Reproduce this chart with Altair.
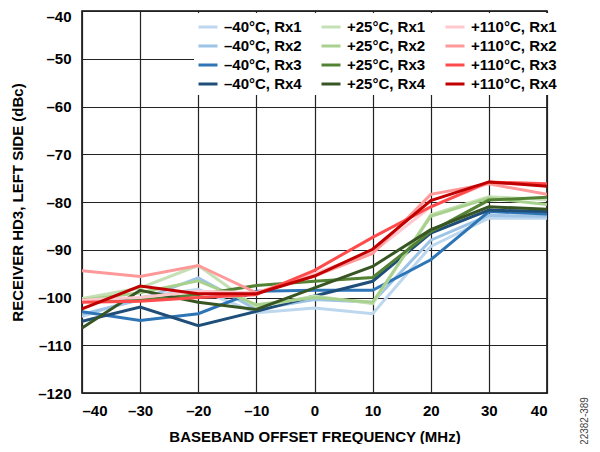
import altair as alt
import pandas as pd

freq = [-40, -30, -20, -10, 0, 10, 20, 30, 40]

series_names = [
    "–40°C, Rx1", "–40°C, Rx2", "–40°C, Rx3", "–40°C, Rx4",
    "+25°C, Rx1", "+25°C, Rx2", "+25°C, Rx3", "+25°C, Rx4",
    "+110°C, Rx1", "+110°C, Rx2", "+110°C, Rx3", "+110°C, Rx4",
]
series_colors = [
    "#bdd7ee", "#9dc3e6", "#2e75b6", "#1f4e79",
    "#c5e0b4", "#a9d18e", "#548235", "#375623",
    "#ffc7ce", "#ff9999", "#ff4b4b", "#c00000",
]

m40_rx1 = [-104.0, -100.0, -98.3, -103.2, -102.2, -103.4, -89.3, -83.4, -83.4]
m40_rx2 = [-103.5, -100.5, -95.9, -102.5, -100.4, -101.0, -88.0, -82.8, -83.0]
m40_rx3 = [-103.0, -104.8, -103.4, -98.7, -98.5, -98.5, -92.1, -82.0, -82.5]
m40_rx4 = [-105.0, -102.0, -105.9, -102.9, -99.7, -96.6, -86.5, -81.7, -82.0]

p25_rx1 = [-100.2, -98.0, -93.3, -102.0, -99.7, -101.3, -82.7, -78.9, -79.5]
p25_rx2 = [-100.5, -99.0, -96.5, -101.5, -100.0, -101.0, -83.0, -79.2, -80.5]
p25_rx3 = [-100.5, -100.5, -99.4, -97.5, -96.6, -95.8, -86.2, -79.6, -79.0]
p25_rx4 = [-106.4, -98.5, -101.0, -102.5, -98.0, -93.5, -85.8, -81.0, -81.5]

p110_rx1 = [-100.5, -100.0, -98.7, -99.0, -95.0, -90.5, -81.0, -76.0, -76.5]
p110_rx2 = [-94.4, -95.6, -93.3, -99.0, -95.5, -90.8, -78.4, -76.2, -78.4]
p110_rx3 = [-101.0, -100.8, -100.0, -99.4, -94.3, -87.4, -81.0, -75.8, -76.2]
p110_rx4 = [-102.4, -97.6, -99.2, -99.2, -95.5, -89.9, -79.7, -75.8, -76.7]

series_values = [
    m40_rx1, m40_rx2, m40_rx3, m40_rx4,
    p25_rx1, p25_rx2, p25_rx3, p25_rx4,
    p110_rx1, p110_rx2, p110_rx3, p110_rx4,
]

rows = []
for k, (name, vals) in enumerate(zip(series_names, series_values)):
    for f, v in zip(freq, vals):
        rows.append({"series": name, "freq": f, "hd3": v, "z": k})
df = pd.DataFrame(rows)

FONT = "Liberation Sans"
dash_expr = "datum.value < 0 ? '–' + abs(datum.value) : '' + datum.value"

lines = alt.Chart(df).mark_line(strokeWidth=3, strokeJoin="miter", clip=True).encode(
    x=alt.X("freq:Q",
            scale=alt.Scale(domain=[-40, 40], nice=False),
            axis=alt.Axis(values=freq, labelExpr=dash_expr,
                          title="BASEBAND OFFSET FREQUENCY (MHz)",
                          titlePadding=11, labelPadding=10)),
    y=alt.Y("hd3:Q",
            scale=alt.Scale(domain=[-120, -40], nice=False),
            axis=alt.Axis(values=list(range(-120, -39, 10)), labelExpr=dash_expr,
                          title="RECEIVER HD3, LEFT SIDE (dBc)",
                          labelOffset={"condition": {"test": "datum.value == -40", "value": 5}, "value": 0},
                          titlePadding=12, labelPadding=11)),
    color=alt.Color("series:N",
                    scale=alt.Scale(domain=series_names, range=series_colors),
                    legend=alt.Legend(
                        title=None, orient="none", legendX=112, legendY=2,
                        columns=3, columnPadding=13, rowPadding=0,
                        symbolType="stroke", symbolStrokeWidth=3, symbolSize=361,
                        labelFont=FONT, labelFontSize=15, labelFontWeight="bold",
                        labelColor="#000000", labelOffset=5,
                        fillColor="#ffffff", padding=3)),
    detail="series:N",
    order=alt.Order("z:Q"),
)

tag = alt.Chart(pd.DataFrame({"t": ["22382-389"]})).mark_text(
    angle=270, font=FONT, fontSize=10, color="#444444", align="center", baseline="middle"
).encode(text="t:N", x=alt.value(503), y=alt.value(410))

chart = alt.layer(lines, tag).properties(
    width=465, height=382,
    autosize=alt.AutoSizeParams(type="none"),
    padding={"left": 74, "top": 3, "right": 45, "bottom": 51},
).configure_view(
    stroke="#000000", strokeWidth=1.5
).configure_axis(
    grid=True, gridColor="#222222", gridWidth=1.2, gridOpacity=1,
    domain=False, ticks=False,
    labelFont=FONT, labelFontSize=15, labelFontWeight="bold", labelColor="#000000",
    titleFont=FONT, titleFontSize=15, titleFontWeight="bold", titleColor="#000000",
)

chart.save("out.html", embed_options={"renderer": "svg", "actions": False})
